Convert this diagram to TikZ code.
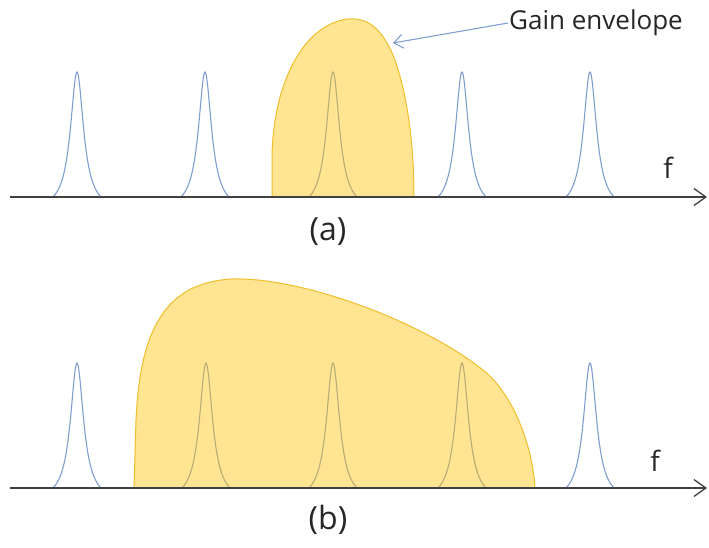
\documentclass[tikz,border=0pt]{standalone}
\usepackage{fontspec}
\setmainfont{Open Sans}
\usetikzlibrary{arrows.meta}
\definecolor{peakblue}{HTML}{7F9ED0}
\definecolor{axisgray}{HTML}{404040}
\definecolor{gold}{HTML}{FFC000}
\definecolor{goldline}{HTML}{F0BE2A}
\tikzset{
  peakline/.style={draw=peakblue, line width=1.1pt},
  axisline/.style={draw=axisgray, line width=1.6pt, -{Straight Barb[length=12pt,width=17pt,line width=1.3pt]}},
  envelope/.style={fill=gold, fill opacity=0.43, draw=goldline, line width=1pt},
  lbl/.style={font=\fontsize{26}{30}\selectfont, text=black!85, inner sep=1pt},
  flbl/.style={font=\fontsize{28}{32}\selectfont, text=black!85, inner sep=1pt},
  caplbl/.style={font=\fontsize{32}{36}\selectfont, text=black!85, inner sep=1pt},
  pointer/.style={draw=peakblue, line width=1.1pt, -{Straight Barb[length=9pt,width=14pt,line width=1.1pt]}}
}
\newcommand{\mypeak}[2]{\draw[peakline] plot[domain=-24:24, samples=81, smooth] ({#1+\x},{#2-125*(1/(1+(\x/8)^2)-0.1)/0.9});}
\begin{document}
\begin{tikzpicture}[x=1pt,y=-1pt]
\useasboundingbox (0,0) rectangle (709,547);
% ---------- (a)
\foreach \c in {77,205,333,462,590} {\mypeak{\c}{197}}
\path[envelope] (272,197) -- (272,160) .. controls (272,90) and (300,25) .. (348,19)
  .. controls (370,17) and (383,32) .. (393,55)
  .. controls (406,88) and (414,140) .. (414,197) -- cycle;
\coordinate (a0) at (10,197);
\coordinate (a1) at (707,197);
\draw[axisline] (a0) -- (a1);
\node[flbl, anchor=center] (fa) at (668,168) {f};
\node[lbl, anchor=west] (gain) at (508,23) {Gain envelope};
\coordinate (tipa) at (393,43);
\draw[pointer] (gain.west) -- (tipa);
\node[caplbl] (capa) at (328,232) {(a)};
% ---------- (b)
\foreach \c in {77,206,333,462,590} {\mypeak{\c}{488}}
\path[envelope] (134,488) -- (136,420) .. controls (140,330) and (165,282) .. (233,279)
  .. controls (300,277) and (420,320) .. (483,370)
  .. controls (510,391) and (532,440) .. (535,488) -- cycle;
\coordinate (b0) at (10,488);
\coordinate (b1) at (707,488);
\draw[axisline] (b0) -- (b1);
\node[flbl, anchor=center] (fb) at (655,461) {f};
\node[caplbl] (capb) at (328,520) {(b)};
\end{tikzpicture}
\end{document}
